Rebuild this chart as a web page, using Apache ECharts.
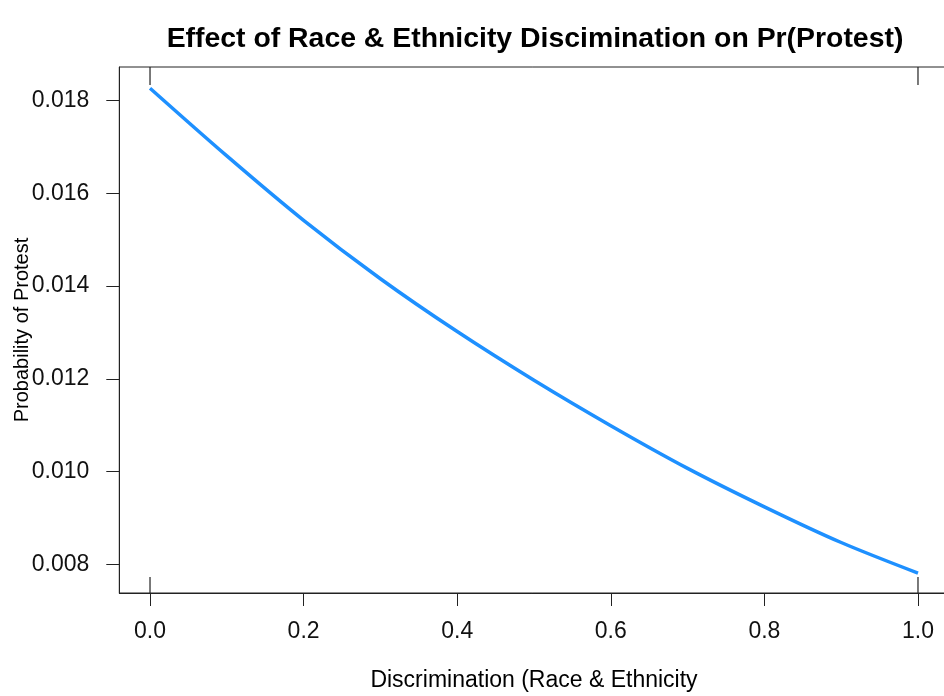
<!DOCTYPE html>
<html>
<head>
<meta charset="utf-8">
<script src="https://cdn.jsdelivr.net/npm/echarts@6/dist/echarts.min.js"></script>
<style>
html,body{margin:0;padding:0;background:#fff;}
#chart{width:944px;height:696px;}
</style>
</head>
<body>
<div id="chart"></div>
<script>
// Data
var discrimination = [0, 0.1, 0.2, 0.3, 0.4, 0.5, 0.6, 0.7, 0.8, 0.9, 1.0];
var probProtest = [0.01827, 0.01681, 0.01542, 0.01416, 0.01302, 0.01197, 0.01099, 0.01007, 0.00924, 0.00847, 0.00781];
var rugX = [0, 1];
var xTicks = [0, 0.2, 0.4, 0.6, 0.8, 1.0];
var yTicks = [0.008, 0.010, 0.012, 0.014, 0.016, 0.018];

var titleText = 'Effect of Race & Ethnicity Discimination on Pr(Protest)';
var xName = 'Discrimination (Race & Ethnicity';
var yName = 'Probability of Protest';

// R-style 4% axis padding
var xMin = -0.04, xMax = 1.04;
var yMin = 0.007381, yMax = 0.018727;

var lineData = discrimination.map(function (x, i) { return [x, probProtest[i]]; });
var rugBottom = rugX.map(function (x) { return [x, yMin]; });
var rugTop = rugX.map(function (x) { return [x, yMax]; });

var FONT = '"Liberation Sans", Arial, sans-serif';
var AX = '#222';

var chart = echarts.init(document.getElementById('chart'), null, {renderer: 'canvas'});
chart.setOption({
  animation: false,
  backgroundColor: '#ffffff',
  title: {
    text: titleText,
    left: 530, top: 20,
    textAlign: 'center',
    textStyle: {fontFamily: FONT, fontSize: 28.4, fontWeight: 'bold', color: '#000'}
  },
  grid: {
    left: 119.3, top: 67, width: 829.4, bottom: 103,
    containLabel: false,
    outerBoundsMode: 'none',
    show: true, borderColor: AX, borderWidth: 1, backgroundColor: 'transparent'
  },
  xAxis: {
    type: 'value', min: xMin, max: xMax,
    name: xName, nameLocation: 'middle', nameGap: 76, nameMoveOverlap: false,
    nameTextStyle: {fontFamily: FONT, fontSize: 23, color: '#000'},
    axisLine: {show: true, onZero: false, lineStyle: {color: AX, width: 1}},
    axisTick: {show: true, length: 13, inside: false, customValues: xTicks, lineStyle: {color: AX, width: 1}},
    axisLabel: {show: true, customValues: xTicks, margin: 27, fontFamily: FONT, fontSize: 23, color: '#111',
      formatter: function (v) { return v.toFixed(1); }},
    splitLine: {show: false}
  },
  yAxis: {
    type: 'value', min: yMin, max: yMax,
    name: yName, nameLocation: 'middle', nameGap: 87, nameRotate: 90, nameMoveOverlap: false,
    nameTextStyle: {fontFamily: FONT, fontSize: 20, color: '#000'},
    axisLine: {show: true, onZero: false, lineStyle: {color: AX, width: 1}},
    axisTick: {show: true, length: 13, inside: false, customValues: yTicks, lineStyle: {color: AX, width: 1}},
    axisLabel: {show: true, customValues: yTicks, margin: 30, fontFamily: FONT, fontSize: 23, color: '#111',
      formatter: function (v) { return v.toFixed(3); }},
    splitLine: {show: false}
  },
  series: [
    {
      type: 'line', data: lineData, smooth: 0.3, showSymbol: false,
      lineStyle: {color: '#1E90FF', width: 3.5}, z: 3
    },
    {
      type: 'scatter', data: rugBottom, symbol: 'rect', symbolSize: [1.5, 16], symbolOffset: [0, -8],
      itemStyle: {color: AX}, silent: true, clip: false
    },
    {
      type: 'scatter', data: rugTop, symbol: 'rect', symbolSize: [1.5, 18], symbolOffset: [0, 9],
      itemStyle: {color: AX}, silent: true, clip: false
    }
  ]
});
</script>
</body>
</html>
